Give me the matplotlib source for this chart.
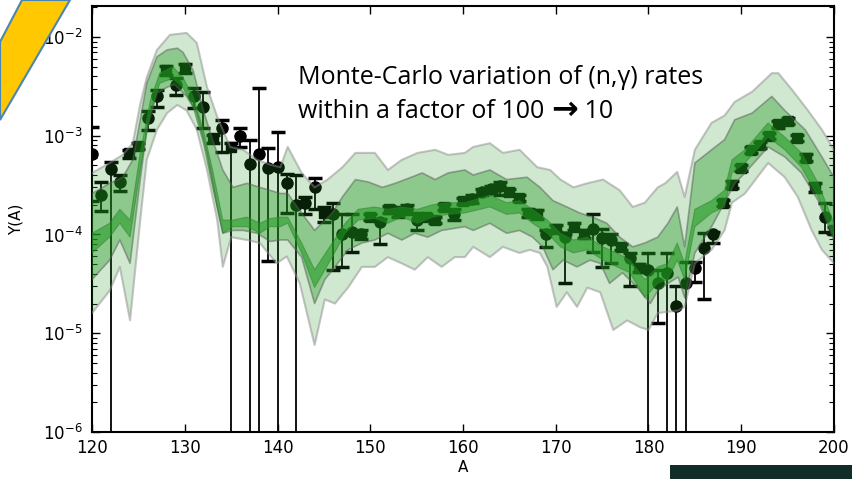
import numpy as np
import matplotlib
matplotlib.use("Agg")
import matplotlib.pyplot as plt
from matplotlib.patches import Polygon, Rectangle

# band edges (A, Y)
outer_up_A = [120, 121.9, 123.3, 124.4, 125.2, 125.9, 127.0, 128.4, 130.2, 131.3,
              132.4, 133.5, 134.9, 136.3, 137.8, 139.2, 140.3, 141.1, 142.6, 144.0,
              145.4, 147.0, 148.4, 150.5, 151.9, 153.4, 155.1, 157.0, 158.4, 160.2,
              161.1, 162.9, 164.3, 166.1, 168.0, 169.4, 170.5, 171.9, 173.4, 175.1,
              176.9, 178.3, 179.6, 181.0, 181.8, 183.1, 183.9, 185.0, 186.8, 188.2,
              189.3, 191.2, 193.3, 194.0, 195.5, 197.2, 198.7, 200]
outer_up = [4.2e-4, 5.3e-4, 6.4e-4, 8.4e-4, 2.1e-3, 3.9e-3, 7.4e-3, 1.05e-2, 1.1e-2, 8.7e-3,
            3.1e-3, 1.55e-3, 7.7e-4, 7.2e-4, 5.7e-4, 5.1e-4, 4.8e-4, 7.7e-4, 4.2e-4, 3.0e-4,
            3.6e-4, 4.8e-4, 6.7e-4, 6.7e-4, 4.5e-4, 5.7e-4, 6.7e-4, 7.2e-4, 6.4e-4, 6.7e-4,
            7.7e-4, 8.4e-4, 6.7e-4, 7.2e-4, 4.8e-4, 4.5e-4, 3.6e-4, 3.0e-4, 3.3e-4, 3.6e-4,
            2.8e-4, 1.9e-4, 2.1e-4, 3.0e-4, 3.3e-4, 4.3e-4, 2.4e-4, 7.2e-4, 1.35e-3, 1.6e-3,
            2.2e-3, 2.8e-3, 4.3e-3, 4.3e-3, 2.9e-3, 1.8e-3, 1.15e-3, 7.2e-4]

outer_lo_A = [120, 121.9, 123.0, 124.1, 125.2, 125.9, 127.0, 128.1, 129.2, 130.2,
              131.3, 132.4, 133.5, 134.1, 135.0, 136.7, 138.1, 139.9, 141.0, 142.4,
              144.0, 145.1, 146.2, 147.6, 149.1, 150.5, 151.9, 153.4, 154.8, 156.2,
              157.7, 159.1, 160.2, 161.1, 162.9, 164.3, 166.1, 167.2, 168.3, 169.1,
              170.1, 171.2, 172.3, 173.4, 174.8, 176.2, 177.7, 179.1, 180.0, 181.0,
              183.2, 183.9, 185.0, 186.8, 188.2, 189.0, 190.4, 192.9, 194.7, 196.1,
              197.6, 198.7, 200]
outer_lo = [1.6e-5, 2.7e-5, 4.7e-5, 1.35e-5, 1.4e-4, 5.7e-4, 1.15e-3, 1.7e-3, 2.05e-3, 1.8e-3,
            1.15e-3, 4.5e-4, 1.4e-4, 4.7e-5, 9.4e-5, 8.8e-5, 8.2e-5, 5.1e-5, 6.0e-5, 3.2e-5,
            7.6e-6, 2.2e-5, 2.0e-5, 2.9e-5, 4.7e-5, 4.7e-5, 5.9e-5, 5.1e-5, 4.4e-5, 5.9e-5,
            4.7e-5, 5.9e-5, 5.9e-5, 7.5e-5, 5.9e-5, 7.5e-5, 6.5e-5, 7.0e-5, 6.5e-5, 4.7e-5,
            1.85e-5, 2.6e-5, 1.85e-5, 2.9e-5, 2.6e-5, 1.08e-5, 1.35e-5, 1.15e-5, 1.08e-5, 1.6e-5,
            1.7e-5, 1.85e-5, 5.1e-5, 7.0e-5, 1.1e-4, 2.1e-4, 2.6e-4, 5.3e-4, 3.8e-4, 2.4e-4,
            1.1e-4, 7.0e-5, 5.1e-5]

mid_up_A = [120, 121.9, 123.3, 124.4, 125.2, 125.9, 127.0, 128.1, 129.2, 129.8,
            130.9, 132.0, 133.0, 134.1, 135.2, 136.7, 138.1, 139.2, 140.3, 141.1,
            142.6, 144.0, 145.9, 147.0, 148.4, 149.8, 151.3, 152.7, 154.1, 155.6,
            157.0, 158.4, 160.2, 161.1, 162.9, 164.7, 166.9, 168.3, 169.7, 171.2,
            172.6, 174.0, 175.5, 176.9, 178.3, 179.6, 181.0, 182.1, 183.1, 183.9,
            185.0, 186.8, 188.2, 189.3, 191.2, 193.3, 194.7, 196.9, 198.7, 200]
mid_up = [2.6e-4, 3.3e-4, 3.8e-4, 5.7e-4, 1.45e-3, 3.4e-3, 6.3e-3, 7.4e-3, 7.7e-3, 7.0e-3,
          4.6e-3, 1.8e-3, 9.1e-4, 4.5e-4, 3.0e-4, 3.3e-4, 3.0e-4, 2.8e-4, 2.6e-4, 2.6e-4,
          1.65e-4, 1.1e-4, 1.65e-4, 2.4e-4, 3.6e-4, 3.4e-4, 3.0e-4, 3.3e-4, 3.7e-4, 4.2e-4,
          3.6e-4, 4.2e-4, 4.5e-4, 4.0e-4, 4.5e-4, 3.6e-4, 3.8e-4, 3.0e-4, 2.2e-4, 1.9e-4,
          1.65e-4, 1.5e-4, 1.3e-4, 9.4e-5, 7.5e-5, 8.2e-5, 9.4e-5, 1.3e-4, 1.9e-4, 7.5e-5,
          5.3e-4, 7.2e-4, 9.1e-4, 1.45e-3, 1.7e-3, 2.5e-3, 1.8e-3, 1.15e-3, 6.1e-4, 3.8e-4]

mid_lo_A = [120, 121.9, 123.0, 124.1, 125.2, 125.9, 127.0, 128.1, 128.9, 130.2,
            131.3, 132.4, 133.5, 134.1, 135.2, 136.3, 137.8, 139.2, 140.3, 141.1,
            142.6, 144.0, 145.1, 146.2, 147.6, 149.1, 150.5, 151.9, 153.4, 154.8,
            156.2, 157.7, 160.2, 161.1, 162.9, 164.7, 166.1, 167.5, 168.6, 169.7,
            170.8, 172.3, 173.7, 174.8, 175.8, 177.2, 178.8, 180.2, 181.0, 182.1,
            183.2, 183.9, 185.0, 186.8, 188.2, 189.3, 190.4, 192.9, 194.7, 196.5,
            198.3, 200]
mid_lo = [3.5e-5, 5.5e-5, 8.8e-5, 5.1e-5, 3.6e-4, 1.15e-3, 2.7e-3, 3.1e-3, 3.3e-3, 2.5e-3,
          1.7e-3, 6.7e-4, 1.9e-4, 1.03e-4, 1.1e-4, 1.1e-4, 1.03e-4, 8.5e-5, 8.8e-5, 8.8e-5,
          5.9e-5, 2.0e-5, 3.5e-5, 4.7e-5, 7.0e-5, 8.2e-5, 8.8e-5, 1.03e-4, 8.8e-5, 1.03e-4,
          9.4e-5, 1.1e-4, 1.2e-4, 1.1e-4, 1.3e-4, 1.03e-4, 1.1e-4, 9.4e-5, 7.5e-5, 4.4e-5,
          5.5e-5, 4.7e-5, 5.5e-5, 5.1e-5, 3.2e-5, 4.1e-5, 2.9e-5, 2.0e-5, 2.7e-5, 3.2e-5,
          3.7e-5, 2.3e-5, 6.5e-5, 1.2e-4, 2.1e-4, 3.3e-4, 4.2e-4, 7.7e-4, 6.1e-4, 4.2e-4,
          2.2e-4, 8.8e-5]

inner_A = [120, 121.9, 123.0, 124.1, 125.2, 126.3, 127.3, 128.7, 129.8, 130.9,
           132.0, 133.0, 134.1, 135.2, 136.7, 138.1, 139.2, 140.3, 141.1, 142.6,
           144.0, 145.9, 147.3, 148.7, 150.5, 151.9, 153.4, 155.1, 156.7, 158.4,
           160.2, 162.9, 164.7, 166.1, 167.5, 169.1, 170.5, 171.9, 173.4, 175.1,
           176.6, 178.0, 179.6, 181.0, 182.1, 183.1, 183.9, 185.0, 186.8, 188.2,
           189.0, 190.4, 192.9, 194.7, 196.5, 198.3, 200]
inner_up = [1.03e-4, 1.3e-4, 1.8e-4, 1.4e-4, 6.7e-4, 2.3e-3, 4.3e-3, 5.0e-3, 3.9e-3, 2.5e-3,
            1.15e-3, 4.5e-4, 1.4e-4, 1.4e-4, 1.5e-4, 1.3e-4, 1.45e-4, 1.5e-4, 1.5e-4, 8.2e-5,
            4.4e-5, 8.2e-5, 1.3e-4, 1.8e-4, 1.9e-4, 1.8e-4, 1.9e-4, 1.8e-4, 2.0e-4, 2.1e-4,
            2.1e-4, 2.5e-4, 2.1e-4, 2.2e-4, 1.8e-4, 1.4e-4, 1.03e-4, 8.8e-5, 9.4e-5, 7.5e-5,
            6.5e-5, 5.5e-5, 3.5e-5, 4.7e-5, 5.1e-5, 8.2e-5, 5.1e-5, 1.8e-4, 2.2e-4, 2.8e-4,
            5.7e-4, 7.2e-4, 1.35e-3, 9.7e-4, 6.7e-4, 3.3e-4, 1.3e-4]
inner_lo = [6.5e-5, 9.4e-5, 1.3e-4, 9.4e-5, 4.5e-4, 1.7e-3, 3.4e-3, 3.8e-3, 3.1e-3, 1.95e-3,
            8.4e-4, 3.0e-4, 1.03e-4, 1.2e-4, 1.2e-4, 1.03e-4, 1.2e-4, 1.2e-4, 1.3e-4, 6.5e-5,
            2.9e-5, 5.9e-5, 1.03e-4, 1.4e-4, 1.45e-4, 1.3e-4, 1.5e-4, 1.3e-4, 1.5e-4, 1.6e-4,
            1.65e-4, 1.9e-4, 1.6e-4, 1.65e-4, 1.3e-4, 1.03e-4, 7.5e-5, 6.5e-5, 7.0e-5, 5.5e-5,
            4.7e-5, 4.1e-5, 2.3e-5, 3.2e-5, 3.5e-5, 5.5e-5, 3.5e-5, 1.2e-4, 1.65e-4, 1.9e-4,
            4.2e-4, 5.3e-4, 9.7e-4, 7.2e-4, 4.8e-4, 2.4e-4, 9.4e-5]

# points shown as circles (A, Y, upper, lower); 1e-7 = bar runs off the bottom
circ_A = [120, 121, 122, 123, 126, 127, 129, 131, 132, 134,
          136, 137, 138, 139, 140, 141, 142, 143, 144, 146,
          147, 148, 149, 151, 153, 154, 155, 159, 161, 162,
          163, 164, 169, 171, 174, 175, 176, 178, 180, 181,
          182, 183, 184, 185, 186, 187, 199]
circ_Y = [6.5e-4, 2.5e-4, 4.6e-4, 3.4e-4, 1.5e-3, 2.5e-3, 3.3e-3, 2.5e-3, 1.95e-3, 1.2e-3,
          9.9e-4, 5.2e-4, 6.5e-4, 4.7e-4, 4.8e-4, 3.3e-4, 2.0e-4, 2.1e-4, 3.0e-4, 1.6e-4,
          1.0e-4, 1.05e-4, 1.0e-4, 1.35e-4, 1.7e-4, 1.8e-4, 1.4e-4, 1.6e-4, 2.3e-4, 2.7e-4,
          2.9e-4, 3.1e-4, 1.0e-4, 9.4e-5, 1.15e-4, 9.2e-5, 8.8e-5, 5.8e-5, 4.4e-5, 3.2e-5,
          4.1e-5, 1.9e-5, 3.2e-5, 4.6e-5, 7.3e-5, 1.0e-4, 1.5e-4]
circ_hi = [1.23e-3, 3.4e-4, 5.4e-4, 4.0e-4, 1.8e-3, 2.9e-3, 3.8e-3, 3.05e-3, 2.77e-3, 1.45e-3,
           1.2e-3, 9.1e-4, 3.05e-3, 7.5e-4, 1.1e-3, 4.1e-4, 4.0e-4, 2.4e-4, 3.7e-4, 2.1e-4,
           1.6e-4, 1.6e-4, 1.1e-4, 1.45e-4, 1.9e-4, 2.0e-4, 1.65e-4, 1.8e-4, 2.5e-4, 2.9e-4,
           3.1e-4, 3.4e-4, 1.1e-4, 1.0e-4, 1.6e-4, 1.13e-4, 1.0e-4, 6.5e-5, 6.5e-5, 4.4e-5,
           6.5e-5, 3.0e-5, 5.3e-5, 5.3e-5, 1.03e-4, 1.05e-4, 2.1e-4]
circ_lo = [2.2e-4, 1.73e-4, 1e-7, 2.76e-4, 1.15e-3, 1.95e-3, 2.6e-3, 1.9e-3, 1.2e-3, 6.8e-4,
           7.7e-4, 1e-7, 1e-7, 5.4e-5, 1e-7, 1.65e-4, 1e-7, 1.6e-4, 1.8e-4, 4.4e-5,
           4.7e-5, 6.6e-5, 9.0e-5, 8.0e-5, 1.5e-4, 1.6e-4, 1.1e-4, 1.4e-4, 2.1e-4, 2.5e-4,
           2.7e-4, 2.5e-4, 7.5e-5, 3.2e-5, 6.6e-5, 4.7e-5, 5.1e-5, 3.0e-5, 1e-7, 1.27e-5,
           1e-7, 1e-7, 1e-7, 3.3e-5, 2.2e-5, 8.2e-5, 1.05e-4]

# points shown as squares
sq_A = [124, 125, 128, 130, 133, 135, 145, 150, 152, 156,
        157, 158, 160, 165, 166, 167, 168, 170, 172, 173,
        177, 179, 188, 189, 190, 191, 192, 193, 194, 195,
        196, 197, 198, 200]
sq_Y = [6.7e-4, 7.9e-4, 4.6e-3, 4.8e-3, 9.5e-4, 7.7e-4, 1.65e-4, 1.5e-4, 1.8e-4, 1.5e-4,
        1.4e-4, 1.9e-4, 2.2e-4, 2.7e-4, 2.35e-4, 1.65e-4, 1.6e-4, 1.15e-4, 1.2e-4, 1.0e-4,
        7.5e-5, 4.6e-5, 2.1e-4, 3.2e-4, 4.7e-4, 7.2e-4, 8.1e-4, 1.0e-3, 1.3e-3, 1.4e-3,
        9.5e-4, 6.0e-4, 3.0e-4, 1.1e-4]
sq_hi = [7.2e-4, 8.4e-4, 5.1e-3, 5.3e-3, 1.02e-3, 8.4e-4, 1.9e-4, 1.6e-4, 1.95e-4, 1.6e-4,
         1.5e-4, 2.05e-4, 2.35e-4, 2.9e-4, 2.5e-4, 1.8e-4, 1.75e-4, 1.25e-4, 1.3e-4, 1.1e-4,
         8.1e-5, 5.0e-5, 2.25e-4, 3.45e-4, 5.0e-4, 7.7e-4, 8.7e-4, 1.07e-3, 1.4e-3, 1.5e-3,
         1.02e-3, 6.5e-4, 3.3e-4, 1.2e-4]
sq_lo = [6.0e-4, 7.3e-4, 4.1e-3, 4.3e-3, 8.4e-4, 1e-7, 1.35e-4, 1.4e-4, 1.65e-4, 1.4e-4,
         1.3e-4, 1.75e-4, 2.05e-4, 2.5e-4, 2.2e-4, 1.5e-4, 1.45e-4, 1.05e-4, 1.1e-4, 9.2e-5,
         6.9e-5, 4.2e-5, 1.95e-4, 2.95e-4, 4.4e-4, 6.7e-4, 7.5e-4, 9.3e-4, 1.2e-3, 1.3e-3,
         8.8e-4, 5.5e-4, 2.7e-4, 1.0e-4]

green = "#1e961e"

fig = plt.figure(figsize=(8.53, 4.79), dpi=100)
ax = fig.add_axes([0.1079, 0.0981, 0.8698, 0.8894])

# data points (drawn first, the bands sit on top and tint them)
for A, Y, hi, lo, mk in [(circ_A, circ_Y, circ_hi, circ_lo, "o"),
                         (sq_A, sq_Y, sq_hi, sq_lo, "s")]:
    Y = np.array(Y)
    yerr = [Y - np.array(lo), np.array(hi) - Y]
    ax.errorbar(A, Y, yerr=yerr, fmt=mk, color="black", ms=8 if mk == "o" else 7.5,
                ecolor="black", elinewidth=1.3, capsize=5, capthick=2.5, zorder=2)


def band(xu, yu, xl, yl, alpha, edge, ew):
    xs = np.concatenate([xu, xl[::-1]])
    ys = np.concatenate([yu, yl[::-1]])
    ax.fill(xs, ys, color=green, alpha=alpha, lw=0, zorder=3)
    ax.plot(xu, yu, color=edge, alpha=0.5, lw=ew, zorder=4)
    ax.plot(xl, yl, color=edge, alpha=0.5, lw=ew, zorder=4)


band(np.array(outer_up_A), outer_up, np.array(outer_lo_A), np.array(outer_lo), 0.21, "0.55", 1.5)
band(np.array(mid_up_A), mid_up, np.array(mid_lo_A), np.array(mid_lo), 0.37, "0.35", 1.2)
band(np.array(inner_A), inner_up, np.array(inner_A), np.array(inner_lo), 0.55, "#2f7f2f", 0.8)

ax.set_yscale("log")
ax.set_xlim(120, 200)
ax.set_ylim(1e-6, 2.06e-2)
ax.set_xticks(range(120, 201, 10))
ax.tick_params(which="both", direction="in", top=True, right=True, labelsize=12)
ax.tick_params(which="major", length=6, width=1)
ax.tick_params(which="minor", length=3.5, width=0.8)
ax.tick_params(axis="x", pad=5)
ax.tick_params(axis="y", pad=7)
for s in ax.spines.values():
    s.set_linewidth(1.5)
ax.set_xlabel("A", fontsize=11, labelpad=2)
ax.set_ylabel("Y(A)", fontsize=11, labelpad=14)

# annotation, arrow drawn in a heavier glyph as in the slide
fam = ["Open Sans", "DejaVu Sans"]
x0 = 298 / 853
fig.text(x0, 1 - 78 / 479, "Monte-Carlo variation of (n,\u03b3) rates",
         fontsize=18, family=fam, va="center", ha="left")
t1 = fig.text(x0, 1 - 112 / 479, "within a factor of 100 ",
              fontsize=18, family=fam, va="center", ha="left")
r = fig.canvas.get_renderer()
bb = t1.get_window_extent(r)
t2 = fig.text(bb.x1 / fig.bbox.width, 1 - 110 / 479, "\u2192",
              fontsize=23, family="DejaVu Sans", weight="bold", va="center", ha="left")
bb2 = t2.get_window_extent(r)
fig.text(bb2.x1 / fig.bbox.width, 1 - 112 / 479, " 10",
         fontsize=18, family=fam, va="center", ha="left")

# decoration: yellow ribbon top-left and dark strip bottom-right
W, H = 853.0, 479.0
pts = [(22, 0), (70, 0), (0, 120), (0, 42)]
fig.patches.append(Polygon([(x / W, 1 - y / H) for x, y in pts], closed=True,
                           facecolor="#ffc800", edgecolor="#4a86b4", lw=1.5,
                           transform=fig.transFigure, figure=fig))
fig.patches.append(Rectangle((670 / W, 0), 183 / W, 14 / H, facecolor="#102d28",
                             edgecolor="none", transform=fig.transFigure, figure=fig))

fig.savefig("out.png", dpi=100)
